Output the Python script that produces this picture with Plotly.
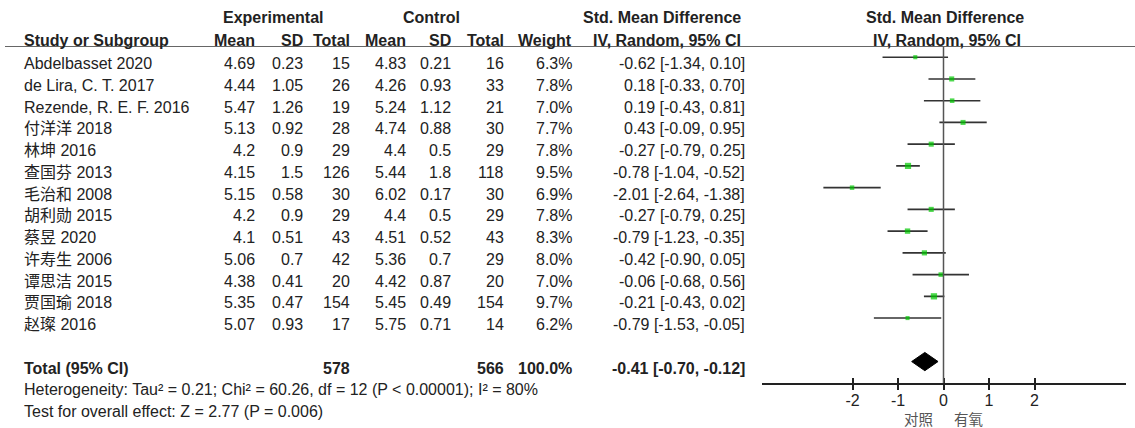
import plotly.graph_objects as go

# ---------------- data ----------------
studies = ["Abdelbasset 2020", "de Lira, C. T. 2017", "Rezende, R. E. F. 2016", "付洋洋 2018",
           "林坤 2016", "查国芬 2013", "毛治和 2008", "胡利勋 2015", "蔡昱 2020", "许寿生 2006",
           "谭思洁 2015", "贾国瑜 2018", "赵璨 2016"]
exp_mean = [4.69, 4.44, 5.47, 5.13, 4.2, 4.15, 5.15, 4.2, 4.1, 5.06, 4.38, 5.35, 5.07]
exp_sd = [0.23, 1.05, 1.26, 0.92, 0.9, 1.5, 0.58, 0.9, 0.51, 0.7, 0.41, 0.47, 0.93]
exp_n = [15, 26, 19, 28, 29, 126, 30, 29, 43, 42, 20, 154, 17]
ctl_mean = [4.83, 4.26, 5.24, 4.74, 4.4, 5.44, 6.02, 4.4, 4.51, 5.36, 4.42, 5.45, 5.75]
ctl_sd = [0.21, 0.93, 1.12, 0.88, 0.5, 1.8, 0.17, 0.5, 0.52, 0.7, 0.87, 0.49, 0.71]
ctl_n = [16, 33, 21, 30, 29, 118, 30, 29, 43, 29, 20, 154, 14]
weight = [6.3, 7.8, 7.0, 7.7, 7.8, 9.5, 6.9, 7.8, 8.3, 8.0, 7.0, 9.7, 6.2]
smd = [-0.62, 0.18, 0.19, 0.43, -0.27, -0.78, -2.01, -0.27, -0.79, -0.42, -0.06, -0.21, -0.79]
ci_lo = [-1.34, -0.33, -0.43, -0.09, -0.79, -1.04, -2.64, -0.79, -1.23, -0.90, -0.68, -0.43, -1.53]
ci_hi = [0.10, 0.70, 0.81, 0.95, 0.25, -0.52, -1.38, 0.25, -0.35, 0.05, 0.56, 0.02, -0.05]

total_smd, total_lo, total_hi = -0.41, -0.70, -0.12
total_weight = 100.0
heterogeneity = "Heterogeneity: Tau² = 0.21; Chi² = 60.26, df = 12 (P &lt; 0.00001); I² = 80%"
overall = "Test for overall effect: Z = 2.77 (P = 0.006)"
x_ticks = [-2, -1, 0, 1, 2]
favours_left, favours_right = "对照", "有氧"

# ---------------- layout constants ----------------
W, H = 1135, 428
FONT = "'Liberation Sans', Arial, 'Noto Sans CJK SC', sans-serif"
TXT = "#222222"
FS = 16

ROW0, ROWH = 57.2, 21.75   # pixel centre of forest row 0, row pitch
TEXT_OFF = 6.5             # table text sits a bit lower than forest rows


def px(x):
    return x / W


def py(y):
    return 1 - y / H


def row_text_y(r):
    return py(ROW0 + ROWH * r + TEXT_OFF)


n = len(studies)
rows = list(range(n))
total_row = n + 1  # 14

fig = go.Figure()

# CI lines
for i in rows:
    fig.add_trace(go.Scatter(x=[ci_lo[i], ci_hi[i]], y=[i, i], mode="lines",
                             line=dict(color="#333333", width=1.6), hoverinfo="skip",
                             showlegend=False, xaxis="x", yaxis="y"))
# point estimates
fig.add_trace(go.Scatter(x=smd, y=rows, mode="markers",
                         marker=dict(symbol="square", color="#00c800",
                                     size=[w * 0.65 for w in weight], line=dict(width=0)),
                         showlegend=False, xaxis="x", yaxis="y", cliponaxis=False))
# diamond
dh = 0.42
fig.add_trace(go.Scatter(x=[total_lo, total_smd, total_hi, total_smd, total_lo],
                         y=[total_row, total_row - dh, total_row, total_row + dh, total_row],
                         mode="lines", fill="toself", fillcolor="black",
                         line=dict(color="black", width=1), showlegend=False,
                         xaxis="x", yaxis="y"))
# invisible trace to create overlay axis (for crossing ticks)
fig.add_trace(go.Scatter(x=[0], y=[0], mode="markers", marker=dict(opacity=0),
                         showlegend=False, xaxis="x2", yaxis="y", hoverinfo="skip"))

annotations = []


def add_text(x, y, text, anchor="right", bold=False, size=FS, color=TXT):
    annotations.append(dict(x=px(x), xref="paper", y=y, yref="paper",
                            text=(f"<b>{text}</b>" if bold else text),
                            xanchor=anchor, yanchor="middle", showarrow=False,
                            font=dict(family=FONT, size=size, color=color)))


# column right edges (pixels)
col_name = 22
col_em, col_esd, col_en = 257, 305, 352
col_cm, col_csd, col_cn = 408, 453, 506
col_w, col_ci = 574, 747

for i in rows:
    y = row_text_y(i)
    add_text(col_name, y, studies[i], anchor="left")
    add_text(col_em, y, str(exp_mean[i]))
    add_text(col_esd, y, str(exp_sd[i]))
    add_text(col_en, y, str(exp_n[i]))
    add_text(col_cm, y, str(ctl_mean[i]))
    add_text(col_csd, y, str(ctl_sd[i]))
    add_text(col_cn, y, str(ctl_n[i]))
    add_text(col_w, y, f"{weight[i]:.1f}%")
    add_text(col_ci, y, f"{smd[i]:.2f} [{ci_lo[i]:.2f}, {ci_hi[i]:.2f}]")

# total row
yt = row_text_y(total_row)
add_text(col_name, yt, "Total (95% CI)", anchor="left", bold=True)
add_text(col_en, yt, str(sum(exp_n)), bold=True)
add_text(col_cn, yt, str(sum(ctl_n)), bold=True)
add_text(col_w, yt, f"{total_weight:.1f}%", bold=True)
add_text(col_ci, yt, f"{total_smd:.2f} [{total_lo:.2f}, {total_hi:.2f}]", bold=True)
add_text(col_name, row_text_y(total_row + 1), heterogeneity, anchor="left")
add_text(col_name, row_text_y(total_row + 2), overall, anchor="left")

# headers
h1, h2 = py(17.5), py(40)
add_text(273, h1, "Experimental", anchor="center", bold=True)
add_text(431, h1, "Control", anchor="center", bold=True)
add_text(743, h1, "Std. Mean Difference", anchor="right", bold=True)
add_text(945, h1, "Std. Mean Difference", anchor="center", bold=True)
add_text(col_name, h2, "Study or Subgroup", anchor="left", bold=True)
for xx, t in [(col_em, "Mean"), (col_esd, "SD"), (col_en, "Total"), (col_cm, "Mean"),
              (col_csd, "SD"), (col_cn, "Total"), (col_w, "Weight")]:
    add_text(xx, h2, t, bold=True)
add_text(743, h2, "IV, Random, 95% CI", anchor="right", bold=True)
add_text(947, h2, "IV, Random, 95% CI", anchor="center", bold=True)

# favours labels
annotations.append(dict(x=-0.19, xref="x", y=py(420), yref="paper", text=favours_left,
                        xanchor="right", yanchor="middle", showarrow=False,
                        font=dict(family=FONT, size=14.5, color="#555555")))
annotations.append(dict(x=0.19, xref="x", y=py(420), yref="paper", text=favours_right,
                        xanchor="left", yanchor="middle", showarrow=False,
                        font=dict(family=FONT, size=14.5, color="#555555")))

shapes = [
    dict(type="line", xref="paper", yref="y", x0=px(5), x1=1, y0=-0.5, y1=-0.5,
         line=dict(color="#333333", width=1.5)),
    dict(type="line", xref="x", yref="y", x0=0, x1=0, y0=-0.5, y1=total_row + 1,
         line=dict(color="#555555", width=1.5)),
]

x_dom = [761.5 / W, 1125.5 / W]
y_dom = [py(383.3), py(ROW0 - 0.5 * ROWH)]

fig.update_layout(
    width=W, height=H, margin=dict(l=0, r=0, t=0, b=0),
    paper_bgcolor="white", plot_bgcolor="white",
    showlegend=False,
    xaxis=dict(domain=x_dom, range=[-4, 4], anchor="y", showgrid=False, zeroline=False,
               showline=True, linecolor="#222222", linewidth=1.6,
               tickmode="array", tickvals=x_ticks, ticktext=[str(t) for t in x_ticks],
               ticks="outside", ticklen=5, tickwidth=1.5, tickcolor="#222222",
               ticklabelstandoff=-3,
               tickfont=dict(family=FONT, size=FS, color=TXT), fixedrange=True),
    xaxis2=dict(domain=x_dom, range=[-4, 4], anchor="y", overlaying="x", showgrid=False,
                zeroline=False, showline=False, tickmode="array", tickvals=x_ticks,
                ticks="inside", ticklen=5, tickwidth=1.5, tickcolor="#222222",
                showticklabels=False, side="bottom", fixedrange=True),
    yaxis=dict(domain=y_dom, range=[total_row + 1, -0.5], showgrid=False, zeroline=False,
               showline=False, showticklabels=False, ticks="", fixedrange=True),
    annotations=annotations, shapes=shapes,
)

fig.write_html("out.html")
